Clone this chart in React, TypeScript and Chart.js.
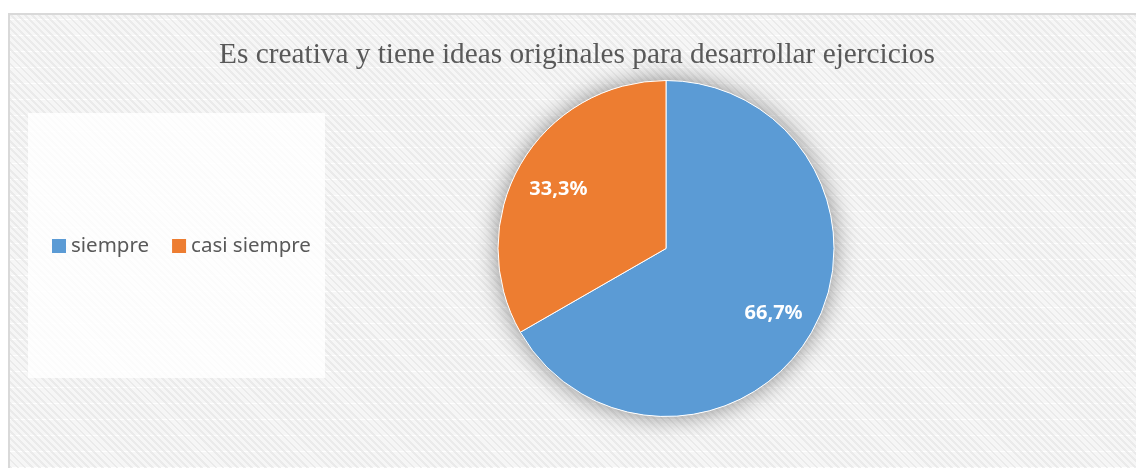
import React, { useEffect, useRef } from "react";
import { Chart, registerables } from "chart.js";

Chart.register(...registerables);

const TITLE = "Es creativa y tiene ideas originales para desarrollar ejercicios";
const CATEGORIES = ["siempre", "casi siempre"];
const VALUES = [66.7, 33.3];
const COLORS = ["#5B9BD5", "#ED7D31"];

const fmt = (v: number) => v.toFixed(1).replace(".", ",") + "%";

const decorPlugin = {
  id: "decor",
  beforeDraw(chart: any) {
    const ctx = chart.ctx;
    ctx.save();
    // title
    ctx.fillStyle = "#595959";
    ctx.font = "29.3px 'Liberation Serif', 'Times New Roman', serif";
    ctx.textAlign = "center";
    ctx.textBaseline = "alphabetic";
    ctx.fillText(chart.options.plugins.customTitle.text, 577, 63);
    // legend box
    ctx.fillStyle = "rgba(255,255,255,0.82)";
    ctx.fillRect(28, 113, 297, 265);
    // legend items
    const labels = chart.data.labels;
    const colors = chart.data.datasets[0].backgroundColor;
    ctx.font = "20.5px 'Noto Sans', 'Open Sans', sans-serif";
    ctx.textAlign = "left";
    ctx.textBaseline = "middle";
    let x = 52;
    const y = 246;
    labels.forEach((l: string, i: number) => {
      ctx.fillStyle = colors[i];
      ctx.fillRect(x, y - 7, 14, 14);
      ctx.fillStyle = "#595959";
      ctx.fillText(l, x + 19, y);
      x += 19 + ctx.measureText(l).width + 23;
    });
    ctx.restore();
  },
  beforeDatasetsDraw(chart: any) {
    const meta = chart.getDatasetMeta(0);
    const a = meta.data[0];
    if (!a) return;
    const ctx = chart.ctx;
    ctx.save();
    ctx.shadowColor = "rgba(0,0,0,0.45)";
    ctx.shadowBlur = 24;
    ctx.fillStyle = "#ffffff";
    ctx.beginPath();
    ctx.arc(a.x, a.y, a.outerRadius, 0, Math.PI * 2);
    ctx.fill();
    ctx.restore();
  },
  afterDatasetsDraw(chart: any) {
    const meta = chart.getDatasetMeta(0);
    const ctx = chart.ctx;
    const data = chart.data.datasets[0].data;
    ctx.save();
    ctx.fillStyle = "#ffffff";
    ctx.font = "bold 20px 'Noto Sans', 'Open Sans', sans-serif";
    ctx.textAlign = "center";
    ctx.textBaseline = "middle";
    meta.data.forEach((arc: any, i: number) => {
      const mid = (arc.startAngle + arc.endAngle) / 2;
      const r = arc.outerRadius * 0.74;
      ctx.fillText(fmt(data[i]), arc.x + Math.cos(mid) * r, arc.y + Math.sin(mid) * r + 3);
    });
    ctx.restore();
  },
};

export default function App() {
  const ref = useRef<HTMLCanvasElement>(null);
  useEffect(() => {
    if (!ref.current) return;
    const chart = new Chart(ref.current, {
      type: "pie",
      data: {
        labels: CATEGORIES,
        datasets: [
          {
            data: VALUES,
            backgroundColor: COLORS,
            borderColor: "#ffffff",
            borderWidth: 1,
          },
        ],
      },
      options: {
        responsive: false,
        animation: false,
        layout: { padding: { top: 80, bottom: 51, left: 497, right: 301 } },
        plugins: {
          legend: { display: false },
          tooltip: { enabled: false },
          customTitle: { text: TITLE },
        } as any,
      },
      plugins: [decorPlugin],
    });
    return () => chart.destroy();
  }, []);

  const pattern =
    "repeating-linear-gradient(45deg, rgba(225,225,225,0.55) 0px, rgba(225,225,225,0.55) 2px, rgba(255,255,255,0) 2px, rgba(255,255,255,0) 5px)," +
    "repeating-linear-gradient(0deg, rgba(255,255,255,0.9) 0px, rgba(255,255,255,0.9) 1px, rgba(255,255,255,0) 1px, rgba(255,255,255,0) 16px)," +
    "#f6f6f6";

  return (
    <>
      <div
        style={{
          position: "absolute",
          left: 8,
          top: 13,
          width: 1128,
          height: 455,
          boxSizing: "border-box",
          borderTop: "2px solid #d9d9d9",
          borderLeft: "2px solid #d9d9d9",
          background: pattern,
        }}
      />
      <canvas
        ref={ref}
        width={1136}
        height={468}
        style={{ position: "absolute", left: 0, top: 0, width: 1136, height: 468 }}
      />
    </>
  );
}
